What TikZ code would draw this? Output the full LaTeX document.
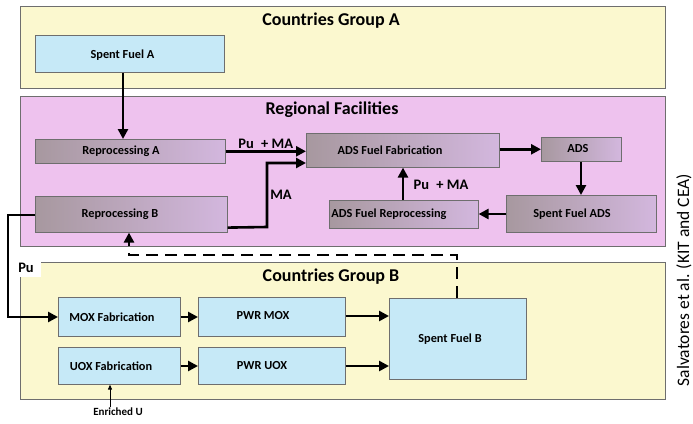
\documentclass[tikz,border=0pt]{standalone}
\usepackage{fontspec}
\setmainfont{Carlito}
\usetikzlibrary{arrows.meta,calc}
\definecolor{yelbg}{HTML}{FBF8CF}
\definecolor{pinkbg}{HTML}{EEC2EE}
\definecolor{bluebox}{HTML}{C6E9F7}
\definecolor{boxdark}{HTML}{A7989F}
\definecolor{boxlight}{HTML}{D3B7DE}
\definecolor{edge}{HTML}{6E6E6E}
\tikzset{
  region/.style={draw=edge, line width=0.6pt, anchor=north west, inner sep=0pt},
  bbox/.style={draw=edge, line width=0.6pt, fill=bluebox, anchor=north west, inner sep=0pt},
  pbox/.style={draw=edge, line width=0.6pt, left color=boxdark, right color=boxlight, anchor=north west, inner sep=0pt},
  lbl/.style={font=\bfseries\fontsize{12.3}{14}\selectfont, inner sep=0pt},
  ttl/.style={font=\bfseries\fontsize{18}{20}\selectfont, inner sep=0pt},
  flow/.style={line width=2.6pt, -{Triangle[length=10pt,width=10pt]}},
  flowlbl/.style={font=\bfseries\fontsize{14.5}{16}\selectfont, inner sep=1pt},
}
\begin{document}
\begin{tikzpicture}[x=1pt,y=-1pt]
\useasboundingbox (0,0) rectangle (693,423);
% regions
\node[region, fill=yelbg, minimum width=645pt, minimum height=82pt] (ga) at (20,6) {};
\node[region, fill=pinkbg, minimum width=645pt, minimum height=150pt] (rf) at (20,96) {};
\node[region, fill=yelbg, minimum width=645pt, minimum height=137pt] (gb) at (20,262) {};
\node[ttl] (tga) at (331,21) {Countries Group A};
\node[ttl] (trf) at (332,110) {Regional Facilities};
\node[ttl] (tgb) at (331,277) {Countries Group B};
% boxes
\node[bbox, minimum width=189pt, minimum height=37pt] (sfa) at (35,35) {};
\node[pbox, minimum width=190pt, minimum height=24pt] (ra) at (35,139) {};
\node[pbox, minimum width=193pt, minimum height=34pt] (adsff) at (306,133) {};
\node[pbox, minimum width=80pt, minimum height=24pt] (ads) at (541,137) {};
\node[pbox, minimum width=150pt, minimum height=37pt] (sfads) at (506,195) {};
\node[pbox, minimum width=149pt, minimum height=28pt] (adsfr) at (329,200) {};
\node[pbox, minimum width=192pt, minimum height=36pt] (rb) at (35,196) {};
\node[bbox, minimum width=122pt, minimum height=39pt] (mox) at (58,297) {};
\node[bbox, minimum width=147pt, minimum height=39pt] (pwrmox) at (198,297) {};
\node[bbox, minimum width=122pt, minimum height=37pt] (uox) at (58,347) {};
\node[bbox, minimum width=147pt, minimum height=37pt] (pwruox) at (198,347) {};
\node[bbox, minimum width=137pt, minimum height=81pt] (sfb) at (389,298) {};
% box labels
\node[lbl] (tsfa) at (122.5,55) {Spent Fuel A};
\node[lbl] (tra) at (121,151) {Reprocessing A};
\node[lbl] (tadsff) at (390,150) {ADS Fuel Fabrication};
\node[lbl] (tads) at (578,149) {ADS};
\node[lbl] (tsfads) at (572,214) {Spent Fuel ADS};
\node[lbl] (tadsfr) at (389,214) {ADS Fuel Reprocessing};
\node[lbl] (trb) at (120,214) {Reprocessing B};
\node[lbl] (tmox) at (112,317) {MOX Fabrication};
\node[lbl] (tpwrmox) at (263,316) {PWR MOX};
\node[lbl] (tuox) at (111,366) {UOX Fabrication};
\node[lbl] (tpwruox) at (262,366) {PWR UOX};
\node[lbl] (tsfb) at (450,339) {Spent Fuel B};
% flows
\draw[flow] (sfa.south -| 123,0) -- (ra.north -| 123,0);
\draw[flow] (ra.east) -- (adsff.west |- ra.east) node[flowlbl, midway, above] (lpuma1) {Pu\enspace+ MA};
\draw[flow] (rb.south east) ++(0,-5) coordinate (rbo) -- (267,227) |- (adsff.west |- 0,163);
\node[flowlbl] (lma) at (281,195) {MA};
\draw[flow] (adsff.east |- ads.west) -- (ads.west);
\draw[flow] (ads.south -| 581,0) -- (sfads.north -| 581,0);
\draw[flow] (sfads.west |- 0,214) -- (adsfr.east |- 0,214);
\draw[flow] (adsfr.north -| 403,0) -- (adsff.south -| 403,0);
\node[flowlbl] (lpuma2) at (441,185) {Pu\enspace+ MA};
\draw[flow] (rb.west |- 0,215) -- (8,215) |- (mox.west |- 0,317);
\node[flowlbl, fill=white, minimum width=30pt, minimum height=18pt] (lpu) at (26,268) {Pu};
\draw[flow] (mox.east |- 0,317) -- (pwrmox.west |- 0,317);
\draw[flow] (uox.east |- 0,366) -- (pwruox.west |- 0,366);
\draw[flow] (pwrmox.east |- 0,316) -- (sfb.west |- 0,316);
\draw[flow] (pwruox.east |- 0,366) -- (sfb.west |- 0,366);
\draw[flow, dash pattern=on 12pt off 7pt] (sfb.north -| 457,0) -- (457,255) -- (129,255) -- (rb.south -| 129,0);
\node[font=\bfseries\fontsize{11}{13}\selectfont, inner sep=1pt] (enu) at (118,412) {Enriched U};
\draw[line width=0.9pt, -{Triangle[length=5pt,width=4pt]}] (enu.north -| 110,0) -- (uox.south -| 110,0);
\node[font=\fontsize{17.5}{19}\selectfont, rotate=90, inner sep=0pt] (cred) at (684,280) {Salvatores et al. (KIT and CEA)};
\end{tikzpicture}
\end{document}
